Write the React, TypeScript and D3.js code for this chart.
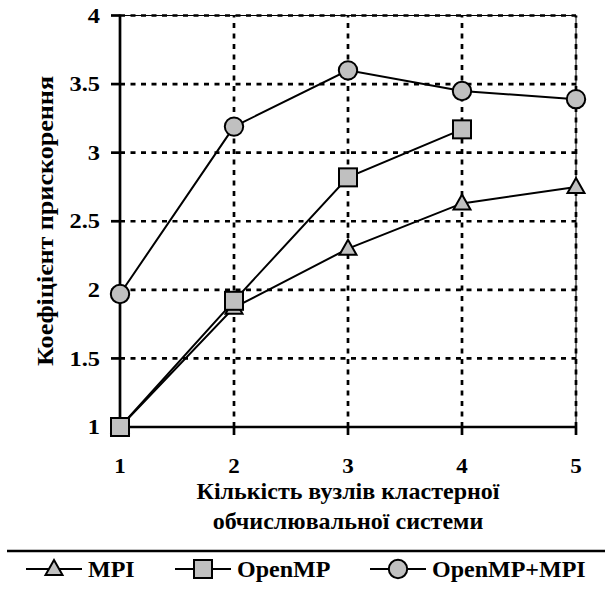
import React from "react";
import * as d3 from "d3";

const nodes = [1, 2, 3, 4, 5];
const mpi = [1.0, 1.87, 2.3, 2.63, 2.75];
const openmp = [1.0, 1.92, 2.82, 3.17];
const hybrid = [1.97, 3.19, 3.6, 3.45, 3.39];
const yTicks = [1, 1.5, 2, 2.5, 3, 3.5, 4];
const xTicks = [1, 2, 3, 4, 5];
const yTickLabels = ["1", "1.5", "2", "2.5", "3", "3.5", "4"];
const seriesNames = ["MPI", "OpenMP", "OpenMP+MPI"];

const FONT = "'Liberation Serif', 'Times New Roman', serif";
const FILL = "#c0c0c0";

function Marker({ kind, x, y }: { kind: string; x: number; y: number }) {
  if (kind === "tri") {
    const s = 17;
    const h = 15;
    return (
      <path
        d={`M${x},${y - h * 0.6} L${x + s / 2},${y + h * 0.4} L${x - s / 2},${y + h * 0.4} Z`}
        fill={FILL}
        stroke="#000"
        strokeWidth={2}
        strokeLinejoin="miter"
      />
    );
  }
  if (kind === "sq") {
    const s = 18;
    return <rect x={x - s / 2} y={y - s / 2} width={s} height={s} fill={FILL} stroke="#000" strokeWidth={2} />;
  }
  return <ellipse cx={x} cy={y} rx={9.2} ry={9.2} fill={FILL} stroke="#000" strokeWidth={2} />;
}

export default function App() {
  const W = 605;
  const H = 590;
  const x = d3.scaleLinear().domain([1, 5]).range([120, 576]);
  const y = d3.scaleLinear().domain([1, 4]).range([427, 15.5]);

  const line = d3
    .line<number>()
    .x((_, i) => x(nodes[i]))
    .y((d) => y(d));

  const series = [
    { name: seriesNames[0], data: mpi, kind: "tri" },
    { name: seriesNames[1], data: openmp, kind: "sq" },
    { name: seriesNames[2], data: hybrid, kind: "circ" },
  ];

  const legendItems = [
    { kind: "tri", x0: 26, label: seriesNames[0] },
    { kind: "sq", x0: 175, label: seriesNames[1] },
    { kind: "circ", x0: 370, label: seriesNames[2] },
  ];
  const ly = 569;

  return (
    <svg width={W} height={H} style={{ position: "absolute", left: 0, top: 0, background: "#fff" }}>
      <rect x={0} y={0} width={W} height={H} fill="#fff" />
      {/* grid */}
      {yTicks.filter((t) => t > 1).map((t) => (
        <line key={"gy" + t} x1={x(1)} x2={x(5)} y1={y(t)} y2={y(t)} stroke="#000" strokeWidth={2.7} strokeDasharray="5,5.5" />
      ))}
      {xTicks.filter((t) => t > 1).map((t) => (
        <line key={"gx" + t} x1={x(t)} x2={x(t)} y1={y(1)} y2={y(4)} stroke="#000" strokeWidth={2.7} strokeDasharray="5,5.5" />
      ))}
      {/* frame top/right thin */}
      <line x1={x(1)} x2={x(5)} y1={y(4)} y2={y(4)} stroke="#000" strokeWidth={1} />
      <line x1={x(5)} x2={x(5)} y1={y(1)} y2={y(4)} stroke="#000" strokeWidth={1} />
      {/* axes */}
      <line x1={x(1)} x2={x(1)} y1={y(1)} y2={y(4) - 1} stroke="#000" strokeWidth={2.7} />
      <line x1={x(1)} x2={x(5)} y1={y(1)} y2={y(1)} stroke="#000" strokeWidth={2.7} />
      {yTicks.map((t, i) => (
        <g key={"yt" + t}>
          <line x1={x(1) - 9} x2={x(1)} y1={y(t)} y2={y(t)} stroke="#000" strokeWidth={2.7} />
          <text
            transform={`translate(100,${y(t)}) scale(1.22,1)`}
            dy="0.36em"
            textAnchor="end"
            fontFamily={FONT}
            fontWeight="bold"
            fontSize={20}
          >
            {yTickLabels[i]}
          </text>
        </g>
      ))}
      {xTicks.map((t) => (
        <g key={"xt" + t}>
          <line x1={x(t)} x2={x(t)} y1={y(1)} y2={y(1) + 8} stroke="#000" strokeWidth={2.7} />
          <text
            transform={`translate(${x(t)},473) scale(1.15,1)`}
            textAnchor="middle"
            fontFamily={FONT}
            fontWeight="bold"
            fontSize={20}
          >
            {t}
          </text>
        </g>
      ))}
      {/* axis titles */}
      <text
        transform={`translate(53,221) rotate(-90)`}
        textAnchor="middle"
        fontFamily={FONT}
        fontWeight="bold"
        fontSize={24}
        textLength={290}
        lengthAdjust="spacingAndGlyphs"
      >
        Коефіцієнт прискорення
      </text>
      <text x={348} y={499} textAnchor="middle" fontFamily={FONT} fontWeight="bold" fontSize={24}>
        Кількість вузлів кластерної
      </text>
      <text x={348} y={529} textAnchor="middle" fontFamily={FONT} fontWeight="bold" fontSize={24}>
        обчислювальної системи
      </text>
      {/* series */}
      {series.map((s) => (
        <path key={"l" + s.name} d={line(s.data) || ""} fill="none" stroke="#000" strokeWidth={2} />
      ))}
      {series.map((s) =>
        s.data.map((v, i) => <Marker key={s.name + i} kind={s.kind} x={x(nodes[i])} y={y(v)} />)
      )}
      {/* legend */}
      <line x1={7} x2={605} y1={551} y2={551} stroke="#000" strokeWidth={2.7} />
      {legendItems.map((it) => (
        <g key={"lg" + it.label}>
          <line x1={it.x0} x2={it.x0 + 56} y1={ly} y2={ly} stroke="#000" strokeWidth={2} />
          <Marker kind={it.kind} x={it.x0 + 28} y={ly} />
          <text x={it.x0 + 62} y={577} fontFamily={FONT} fontWeight="bold" fontSize={24}>
            {it.label}
          </text>
        </g>
      ))}
    </svg>
  );
}
